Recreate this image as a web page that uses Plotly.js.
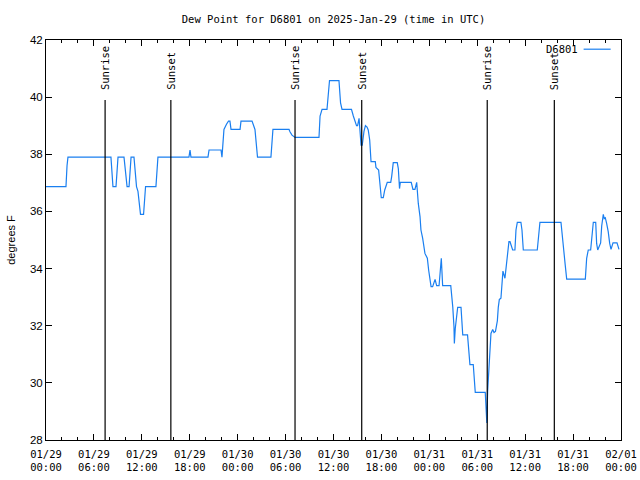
<!DOCTYPE html>
<html>
<head>
<meta charset="utf-8">
<script src="https://cdn.plot.ly/plotly-3.0.1.min.js"></script>
<style>html,body{margin:0;padding:0;background:#fff;}#chart{width:640px;height:480px;}</style>
</head>
<body>
<div id="chart"></div>
<script>
// Observation times (UTC)
const times = [
"2025-01-29 00:00","2025-01-29 02:30","2025-01-29 02:38","2025-01-29 02:45","2025-01-29 08:08","2025-01-29 08:16","2025-01-29 08:23","2025-01-29 08:46","2025-01-29 09:01","2025-01-29 09:46",
"2025-01-29 10:01","2025-01-29 10:09","2025-01-29 10:24","2025-01-29 10:39","2025-01-29 11:01","2025-01-29 11:09","2025-01-29 11:20","2025-01-29 11:31","2025-01-29 11:39","2025-01-29 11:46",
"2025-01-29 11:50","2025-01-29 12:13","2025-01-29 12:20","2025-01-29 12:28","2025-01-29 13:46","2025-01-29 13:54","2025-01-29 14:01","2025-01-29 17:54","2025-01-29 18:02","2025-01-29 18:09",
"2025-01-29 20:17","2025-01-29 20:25","2025-01-29 21:55","2025-01-29 22:02","2025-01-29 22:17","2025-01-29 22:36","2025-01-29 22:51","2025-01-29 23:02","2025-01-29 23:10",
"2025-01-30 00:18","2025-01-30 00:25","2025-01-30 01:48","2025-01-30 02:03","2025-01-30 02:10","2025-01-30 02:29","2025-01-30 04:10","2025-01-30 04:25","2025-01-30 06:26","2025-01-30 06:33",
"2025-01-30 06:48","2025-01-30 07:11","2025-01-30 10:11","2025-01-30 10:19","2025-01-30 10:34","2025-01-30 11:11","2025-01-30 11:19","2025-01-30 11:30","2025-01-30 12:41","2025-01-30 12:53",
"2025-01-30 13:04","2025-01-30 14:15","2025-01-30 14:29","2025-01-30 14:42","2025-01-30 14:53","2025-01-30 15:01","2025-01-30 15:08","2025-01-30 15:12","2025-01-30 15:27","2025-01-30 15:36",
"2025-01-30 15:49","2025-01-30 16:00","2025-01-30 16:12","2025-01-30 16:21","2025-01-30 16:32","2025-01-30 16:42","2025-01-30 17:14","2025-01-30 17:19","2025-01-30 17:39","2025-01-30 17:49",
"2025-01-30 17:59","2025-01-30 18:14","2025-01-30 18:25","2025-01-30 18:44","2025-01-30 19:10","2025-01-30 19:17","2025-01-30 19:29","2025-01-30 19:59","2025-01-30 20:07","2025-01-30 20:16",
"2025-01-30 20:22","2025-01-30 21:44","2025-01-30 21:57","2025-01-30 22:12","2025-01-30 22:25","2025-01-30 22:37","2025-01-30 22:50","2025-01-30 22:57","2025-01-30 23:10","2025-01-30 23:27",
"2025-01-30 23:45","2025-01-30 23:55",
"2025-01-31 00:05","2025-01-31 00:13","2025-01-31 00:25","2025-01-31 00:43","2025-01-31 00:55","2025-01-31 01:13","2025-01-31 01:30","2025-01-31 01:40","2025-01-31 02:41","2025-01-31 02:48",
"2025-01-31 02:56","2025-01-31 03:05","2025-01-31 03:08","2025-01-31 03:15","2025-01-31 03:26","2025-01-31 03:33","2025-01-31 03:58","2025-01-31 04:05","2025-01-31 04:11","2025-01-31 04:47",
"2025-01-31 04:53","2025-01-31 05:00","2025-01-31 05:05","2025-01-31 05:30","2025-01-31 05:36","2025-01-31 05:41","2025-01-31 05:45","2025-01-31 07:00","2025-01-31 07:03","2025-01-31 07:12",
"2025-01-31 07:18","2025-01-31 07:26","2025-01-31 07:30","2025-01-31 07:36","2025-01-31 07:43","2025-01-31 07:56","2025-01-31 08:06","2025-01-31 08:17","2025-01-31 08:31","2025-01-31 08:38",
"2025-01-31 08:46","2025-01-31 08:58","2025-01-31 09:06","2025-01-31 09:13","2025-01-31 09:28","2025-01-31 09:46","2025-01-31 09:58","2025-01-31 10:06","2025-01-31 10:19","2025-01-31 10:26",
"2025-01-31 10:43","2025-01-31 10:51","2025-01-31 11:01","2025-01-31 11:28","2025-01-31 11:36","2025-01-31 11:41","2025-01-31 11:46","2025-01-31 13:31","2025-01-31 13:42","2025-01-31 13:51",
"2025-01-31 16:29","2025-01-31 16:34","2025-01-31 16:46","2025-01-31 17:01","2025-01-31 17:12","2025-01-31 19:32","2025-01-31 19:42","2025-01-31 19:54","2025-01-31 20:12","2025-01-31 20:20",
"2025-01-31 20:32","2025-01-31 20:50","2025-01-31 20:57","2025-01-31 21:05","2025-01-31 21:15","2025-01-31 21:27","2025-01-31 21:35","2025-01-31 21:47","2025-01-31 21:54","2025-01-31 22:02",
"2025-01-31 22:12","2025-01-31 22:24","2025-01-31 22:35","2025-01-31 22:45","2025-01-31 23:00","2025-01-31 23:30","2025-01-31 23:45"
];
// Dew point (degrees F)
const dewpoint = [
36.87,36.87,37.6,37.9,37.9,37.4,36.87,36.87,37.9,37.9,
37.3,36.87,36.87,37.9,37.9,37.4,36.87,36.7,36.4,36.1,
35.9,35.9,36.4,36.87,36.87,37.3,37.9,37.9,38.15,37.9,
37.9,38.15,38.15,37.9,38.87,39.05,39.16,39.16,38.87,
38.87,39.16,39.16,39.0,38.87,37.9,37.9,38.87,38.87,38.79,
38.67,38.59,38.59,39.34,39.57,39.57,40.13,40.58,40.58,39.8,
39.57,39.57,39.34,39.14,39.0,39.0,39.14,39.26,38.32,38.32,
38.8,39.0,38.95,38.85,38.5,37.74,37.74,37.54,37.45,36.8,
36.48,36.48,36.75,37.02,37.02,37.22,37.71,37.71,37.5,36.8,
37.02,37.02,36.77,36.77,37.02,36.28,35.82,35.35,35.06,34.53,
34.36,33.94,
33.54,33.37,33.37,33.62,33.4,33.4,34.36,33.4,33.4,33.07,
32.66,31.97,31.38,31.91,32.38,32.64,32.64,32.14,31.68,31.68,
31.38,30.91,30.64,30.64,30.28,29.92,29.67,29.67,29.17,28.6,
29.7,30.3,30.9,31.44,31.73,31.87,31.76,31.8,32.17,32.64,
32.92,32.96,33.48,33.91,33.66,34.48,34.94,34.94,34.76,34.65,
34.65,35.35,35.62,35.62,35.35,34.9,34.65,34.65,35.35,35.62,
35.62,35.35,34.65,34.12,33.63,33.63,34.36,34.65,34.65,35.12,
35.62,35.62,34.88,34.65,34.8,34.9,35.49,35.9,35.75,35.78,
35.58,35.29,34.88,34.67,34.9,34.9,34.67
];
// Sun events
const sunTimes = ["2025-01-29 07:24","2025-01-29 15:38","2025-01-30 07:11","2025-01-30 15:32","2025-01-31 07:15","2025-01-31 15:39"];
const sunLabels = ["Sunrise","Sunset","Sunrise","Sunset","Sunrise","Sunset"];
const seriesName = "D6801";
const xRange = ["2025-01-29 00:00","2025-02-01 00:00"];
const yRange = [28, 42];

const mono = "DejaVu Sans Mono";
const lineColor = "#1a7ff0";

const trace = {
  x: times, y: dewpoint, type: "scatter", mode: "lines",
  name: seriesName, line: {color: lineColor, width: 1.2}, showlegend: false
};

const shapes = sunTimes.map(t => ({
  type: "line", xref: "x", yref: "paper", x0: t, x1: t, y0: 0, y1: 0.85,
  line: {color: "black", width: 1.2}
}));
// legend key
shapes.push({type: "line", xref: "paper", yref: "paper", x0: 0.935, x1: 0.982, y0: 0.977, y1: 0.977,
  line: {color: lineColor, width: 1.2}});

const annotations = sunTimes.map((t, i) => ({
  x: t, xref: "x", y: 0.87, yref: "paper", text: sunLabels[i], textangle: -90,
  showarrow: false, xanchor: "center", yanchor: "bottom",
  font: {family: mono, size: 10.5, color: "black"}
}));
annotations.push({x: 0.929, xref: "paper", y: 0.977, yref: "paper", text: seriesName,
  showarrow: false, xanchor: "right", yanchor: "middle",
  font: {family: mono, size: 10.5, color: "black"}});

const layout = {
  width: 640, height: 480,
  margin: {l: 46, r: 19, t: 40, b: 40},
  paper_bgcolor: "white", plot_bgcolor: "white",
  title: {text: "Dew Point for D6801 on 2025-Jan-29 (time in UTC)", x: 0.5, xref: "paper",
    y: 0.96, yref: "container", yanchor: "middle", font: {family: mono, size: 10.5, color: "black"}},
  xaxis: {
    type: "date", range: xRange, tickformat: "%m/%d<br>%H:%M", tick0: "2025-01-29", dtick: 21600000,
    ticks: "inside", ticklen: 6, tickcolor: "black", mirror: "ticks", showline: true, linecolor: "black", linewidth: 1,
    showgrid: false, zeroline: false, ticklabelstandoff: 4,
    tickfont: {family: mono, size: 10.5, color: "black"},
    minor: {dtick: 7200000, tick0: "2025-01-29", ticks: "inside", ticklen: 3, tickcolor: "black", showgrid: false}
  },
  yaxis: {
    range: yRange, dtick: 2, ticks: "inside", ticklen: 6, tickcolor: "black", mirror: "ticks",
    showline: true, linecolor: "black", linewidth: 1, showgrid: false, zeroline: false,
    tickfont: {family: "Liberation Sans", size: 11.5, color: "black"},
    title: {text: "degrees F", standoff: 12, font: {family: "Liberation Sans", size: 11, color: "black"}}
  },
  shapes: shapes, annotations: annotations, showlegend: false
};

Plotly.newPlot("chart", [trace], layout, {staticPlot: true, displayModeBar: false});
</script>
</body>
</html>
